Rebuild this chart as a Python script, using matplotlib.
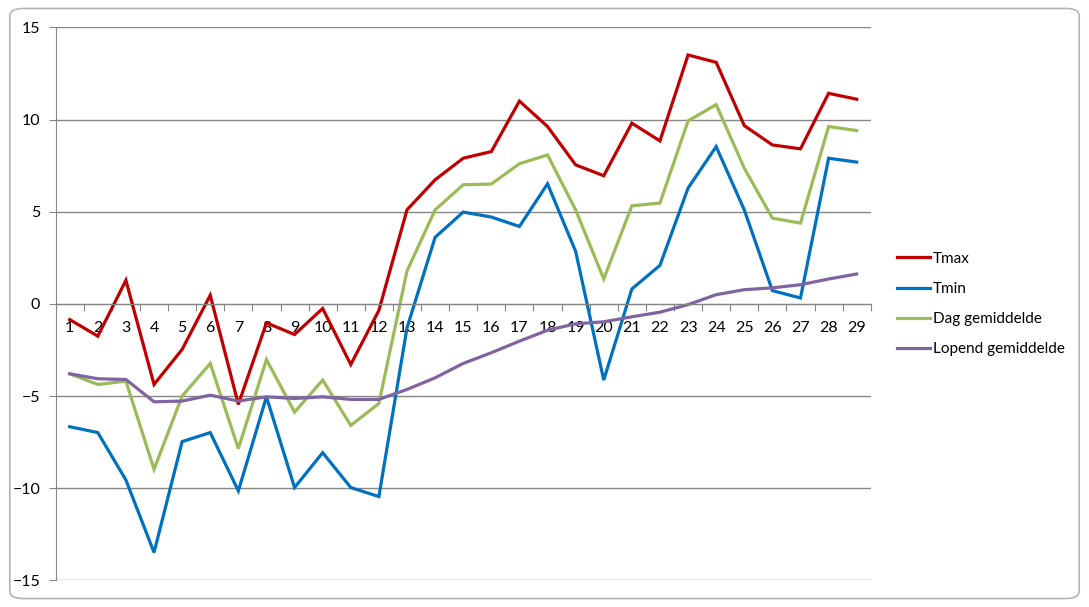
import matplotlib.pyplot as plt
from matplotlib.patches import FancyBboxPatch
import numpy as np

plt.rcParams['font.family'] = ['Lato', 'DejaVu Sans']

days = list(range(1, 30))
tmax = [-0.85, -1.75, 1.28, -4.37, -2.47, 0.47, -5.45, -1.03, -1.66, -0.25,
        -3.29, -0.35, 5.1, 6.73, 7.9, 8.26, 11.0, 9.62, 7.54, 6.95,
        9.8, 8.84, 13.5, 13.1, 9.67, 8.62, 8.41, 11.42, 11.1]
tmin = [-6.66, -6.98, -9.55, -13.48, -7.47, -6.98, -10.14, -5.04, -9.96, -8.07,
        -9.96, -10.45, -1.3, 3.61, 4.98, 4.71, 4.2, 6.51, 2.85, -4.13,
        0.81, 2.09, 6.28, 8.53, 5.1, 0.72, 0.32, 7.9, 7.69]
dag = [-3.79, -4.37, -4.19, -8.97, -5.0, -3.23, -7.85, -3.02, -5.87, -4.13,
       -6.59, -5.4, 1.78, 5.1, 6.46, 6.5, 7.6, 8.08, 5.1, 1.35,
       5.32, 5.47, 9.92, 10.81, 7.36, 4.65, 4.38, 9.62, 9.4]
lopend = [-3.79, -4.06, -4.1, -5.31, -5.27, -4.95, -5.27, -5.04, -5.13, -5.04,
          -5.18, -5.18, -4.64, -4.01, -3.23, -2.65, -2.02, -1.43, -1.08, -0.97,
          -0.7, -0.45, -0.04, 0.5, 0.77, 0.87, 1.04, 1.35, 1.62]

fig = plt.figure(figsize=(10.89, 6.07), dpi=100)
fig.patch.set_facecolor('white')

# chart area frame (rounded, like Excel)
frame = FancyBboxPatch((0.009, 0.014), 0.982, 0.972, boxstyle='round,pad=0,rounding_size=0.012',
                       transform=fig.transFigure, facecolor='white', edgecolor='#b4b4b4',
                       linewidth=1.2, zorder=-5)
fig.patches.append(frame)

ax = fig.add_axes([0.0511, 0.0437, 0.7485, 0.9113])
ax.set_facecolor('none')

ax.plot(days, tmax, color='#c00000', lw=2.3, label='Tmax', solid_joinstyle='miter')
ax.plot(days, tmin, color='#0070c0', lw=2.3, label='Tmin', solid_joinstyle='miter')
ax.plot(days, dag, color='#9bbb59', lw=2.3, label='Dag gemiddelde', solid_joinstyle='miter')
ax.plot(days, lopend, color='#8064a2', lw=2.3, label='Lopend gemiddelde')

ax.set_xlim(0.5, 29.5)
ax.set_ylim(-15, 15)
ax.set_yticks(range(-15, 16, 5))
ax.yaxis.grid(True, color='#868686', lw=1)
ax.set_axisbelow(True)

for s in ['top', 'right']:
    ax.spines[s].set_visible(False)
ax.spines['left'].set_color('#868686')
ax.spines['bottom'].set_color('#868686')
ax.spines['bottom'].set_position(('data', 0))

ax.set_xticks(np.arange(0.5, 30, 1))
ax.set_xticklabels([])
ax.tick_params(axis='x', which='major', direction='out', length=5, color='#868686')
ax.set_xticks(days, minor=True)
ax.set_xticklabels([str(d) for d in days], minor=True)
ax.tick_params(axis='x', which='minor', length=0, pad=12, labelsize=11.5)
ax.tick_params(axis='y', direction='out', length=5, color='#868686', labelsize=11.5, pad=6)

ax.legend(loc='center left', bbox_to_anchor=(1.015, 0.5), frameon=False, fontsize=11,
          handlelength=2.2, handletextpad=0.15, labelspacing=1.05)

fig.savefig('out.png', dpi=100)
